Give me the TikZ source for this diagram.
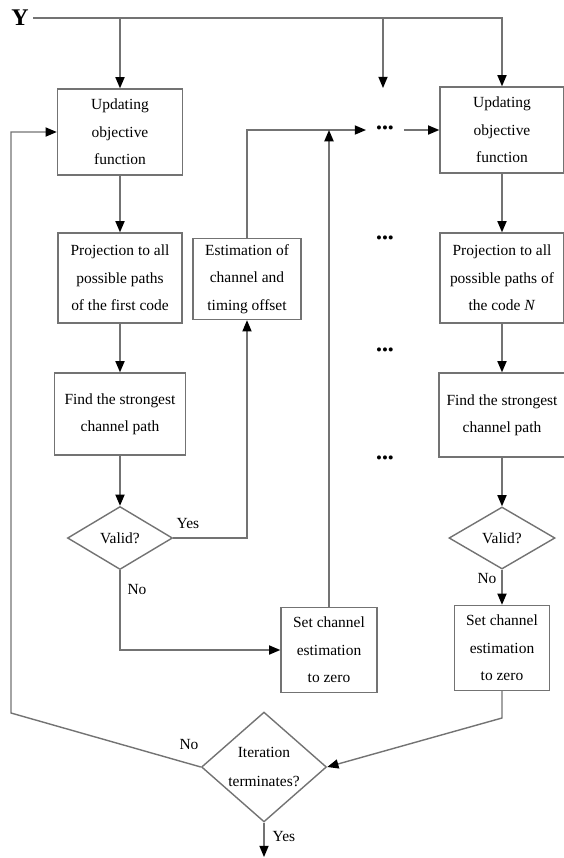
\documentclass[tikz,border=0pt]{standalone}
\usepackage{fontspec}
\setmainfont{Liberation Serif}
\usetikzlibrary{arrows.meta}
\usetikzlibrary{shapes.geometric}
\definecolor{flowline}{rgb}{0.45,0.45,0.45}

\begin{document}
\begin{tikzpicture}[x=0.025cm,y=-0.025cm,
    block/.style={draw=flowline,line width=1pt,align=center,inner sep=0pt,font=\fontsize{11}{19.5}\selectfont},
    test/.style={draw=flowline,line width=1pt,diamond,align=center,inner sep=0pt,font=\fontsize{11}{20}\selectfont},
    flow/.style={draw=flowline,line width=1pt,-{Triangle[length=8pt,width=6.5pt,color=black]}},
    tag/.style={font=\fontsize{11}{13}\selectfont,inner sep=1pt},
    dotrow/.style={font=\fontsize{12}{12}\selectfont,inner sep=2pt}]
    \useasboundingbox (0,0) rectangle (564,858);

    % draw input
    \node[font=\fontsize{17}{17}\selectfont\bfseries,inner sep=3pt] (Yin) at (20,18) {Y};

    % draw first code column
    \node[block,minimum width=3.125cm,minimum height=2.15cm] (A1) at (120,132) {Updating\\objective\\function};
    \node[block,minimum width=3.1cm,minimum height=2.25cm] (A2) at (120,278) {Projection to all\\possible paths\\of the first code};
    \node[block,minimum width=3.275cm,minimum height=2.05cm] (A3) at (120,414) {Find the strongest\\channel path};
    \node[test,minimum width=2.625cm,minimum height=1.575cm] (V1) at (120,538) {Valid?};
    \node[block,minimum width=2.7cm,minimum height=2.025cm] (E) at (247,279) {Estimation of\\channel and\\timing offset};
    \node[block,minimum width=2.4cm,minimum height=2.125cm] (S1) at (329,650) {Set channel\\estimation\\to zero};

    % draw code N column
    \node[block,minimum width=3.1cm,minimum height=2.15cm] (B1) at (502,130) {Updating\\objective\\function};
    \node[block,minimum width=3.1cm,minimum height=2.25cm] (B2) at (502,278) {Projection to all\\possible paths of\\the code \textit{N}};
    \node[block,minimum width=3.15cm,minimum height=2.1cm] (B3) at (502,415) {Find the strongest\\channel path};
    \node[test,minimum width=2.65cm,minimum height=1.55cm] (V2) at (502,538) {Valid?};
    \node[block,minimum width=2.375cm,minimum height=2.125cm] (S2) at (502,648) {Set channel\\estimation\\to zero};

    % draw end test
    \node[test,minimum width=3.125cm,minimum height=2.675cm] (IT) at (264,767) {Iteration\\terminates?};

    % draw dots
    \node[dotrow,inner sep=7pt] (dotsA) at (385,130) {•••};
    \node[dotrow] (dotsB) at (385,240) {•••};
    \node[dotrow] (dotsC) at (385,352) {•••};
    \node[dotrow] (dotsD) at (385,460) {•••};

    % draw labels
    \node[tag] (yesA) at (188,524) {Yes};
    \node[tag] (noA) at (137,590) {No};
    \node[tag] (noB) at (487,579) {No};
    \node[tag] (noC) at (189,745) {No};
    \node[tag] (yesC) at (284,836) {Yes};

    % free ends
    \coordinate (tapM) at (383,88);
    \coordinate (fbL) at (11,713);
    \coordinate (fbR) at (502,718);
    \coordinate (outIT) at (264,857);

    % draw input lines
    \draw[flow] (Yin.east) -| (B1.north);
    \draw[flow] (Yin.east -| A1.north) -- (A1.north);
    \draw[flow] (Yin.east -| tapM) -- (tapM);

    % draw first code flow
    \draw[flow] (A1.south) -- (A2.north);
    \draw[flow] (A2.south) -- (A3.north);
    \draw[flow] (A3.south) -- (V1.north);
    \draw[flow] (V1.east) -| (E.south);
    \draw[flow] (E.north) |- (dotsA.west);
    \draw[flow] (V1.south) |- (S1.west);
    \draw[flow] (S1.north) -- (S1.north |- dotsA.west);
    \draw[flow] (dotsA.east) -- (B1.west);

    % draw code N flow
    \draw[flow] (B1.south) -- (B2.north);
    \draw[flow] (B2.south) -- (B3.north);
    \draw[flow] (B3.south) -- (V2.north);
    \draw[flow] (V2.south) -- (S2.north);

    % draw iteration loop
    \draw[flow] (S2.south) -- (fbR) -- (IT.east);
    \draw[flow] (IT.west) -- (fbL) |- (A1.west);
    \draw[flow] (IT.south) -- (outIT);
\end{tikzpicture}
\end{document}
